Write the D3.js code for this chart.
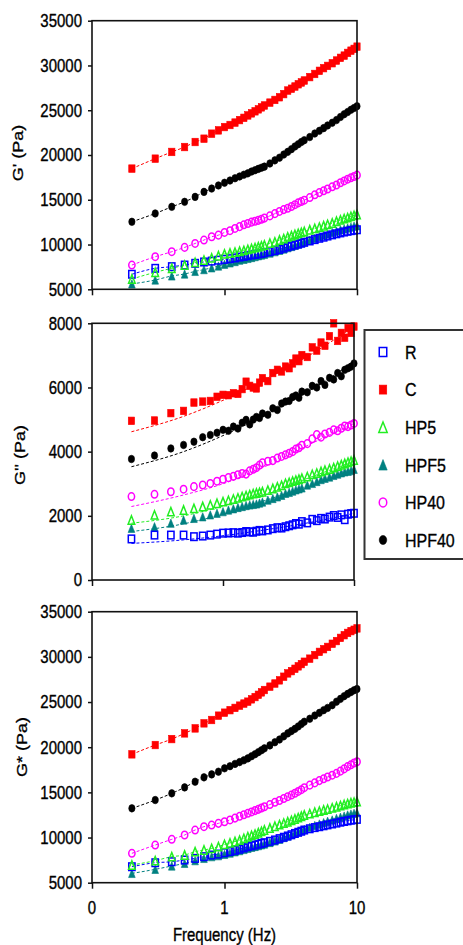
<!DOCTYPE html>
<html><head><meta charset="utf-8">
<script src="https://cdn.jsdelivr.net/npm/d3@7"></script>
<style>
body{margin:0;background:#fff;}
svg{display:block;}
text{font-family:"Liberation Sans",Arial,sans-serif;fill:#000;stroke:#000;stroke-width:0.3px;}
</style>
</head><body>
<svg id="c" width="463" height="945"></svg>
<script>
// ---------- DATA ----------
const freq = [0.2,0.3,0.4,0.5,0.6,0.7,0.8,0.9,1.0,1.1,1.2,1.3,1.4,1.5,1.6,1.7,1.8,1.9,2.0,2.2,2.4,2.6,2.8,3.0,3.2,3.4,3.6,3.8,4.0,4.4,4.8,5.2,5.6,6.0,6.5,7.0,7.5,8.0,8.5,9.0,9.5,10];
const seriesNames = ["R","C","HP5","HPF5","HP40","HPF40"];
const xTickValues = [0.1,1,10];
const xTickLabels = ["0","1","10"];
const yTicksG = [5000,10000,15000,20000,25000,30000,35000];
const yTicksGpp = [0,2000,4000,6000,8000];

// G' (storage modulus)
const gp_R    = [6680,7340,7530,7710,7900,8050,8150,8250,8340,8420,8500,8600,8680,8750,8830,8890,8950,9010,9080,9200,9330,9450,9600,9750,9850,9950,10050,10150,10250,10400,10550,10700,10820,10950,11080,11200,11300,11400,11480,11550,11600,11650];
const gp_C    = [18480,19590,20340,20890,21450,21820,22380,22750,23120,23350,23620,23900,24150,24420,24650,24880,25100,25320,25530,25850,26150,26450,26800,27200,27400,27650,27900,28100,28320,28700,29050,29400,29700,29950,30250,30550,30850,31100,31400,31650,31850,32100];
const gp_HP5  = [6150,6900,7350,7700,8000,8250,8500,8750,8950,9050,9150,9250,9350,9450,9550,9650,9750,9850,9950,10150,10300,10500,10650,10850,10980,11120,11250,11350,11450,11650,11800,11950,12100,12250,12400,12600,12750,12900,13000,13150,13250,13350];
const gp_HPF5 = [5600,6040,6490,6710,7000,7200,7400,7600,7800,7950,8100,8250,8350,8450,8550,8650,8750,8830,8900,9050,9200,9350,9500,9650,9780,9920,10050,10180,10300,10500,10700,10900,11050,11200,11350,11500,11650,11750,11850,11950,12050,12100];
const gp_HP40 = [7710,8640,9200,9680,10120,10500,10870,11050,11350,11550,11800,12000,12200,12350,12500,12600,12700,12820,12950,13200,13450,13700,13900,14050,14250,14450,14650,14800,14950,15250,15550,15800,16000,16200,16450,16650,16900,17100,17300,17450,17600,17750];
const gp_HPF40= [12540,13470,14210,14770,15320,15880,16250,16600,16900,17150,17400,17600,17800,17950,18150,18300,18450,18580,18700,19050,19400,19700,20050,20350,20650,20950,21200,21450,21650,22000,22400,22700,23000,23300,23600,23900,24250,24550,24800,25050,25250,25450];

// G'' (loss modulus)
const gpp_R    = [1280,1400,1400,1400,1350,1370,1400,1430,1460,1465,1475,1460,1480,1510,1500,1490,1520,1545,1530,1560,1600,1630,1620,1660,1690,1720,1760,1740,1820,1780,1890,1850,1920,1900,1960,2010,1950,2030,1880,2050,2070,2080];
const gpp_C    = [4960,4970,5200,5270,5530,5560,5580,5710,5770,5760,5820,5800,5950,6180,6050,6000,5970,6150,6290,6200,6450,6550,6500,6650,6600,6750,6900,6820,7010,6950,7250,7150,7400,7300,7600,8000,7450,7700,7550,7850,7700,7900];
const gpp_HP5  = [1870,2030,2130,2180,2230,2290,2340,2390,2440,2480,2520,2560,2600,2630,2660,2690,2710,2730,2750,2800,2850,2900,2950,3010,3040,3080,3110,3140,3170,3220,3290,3330,3380,3420,3460,3500,3550,3590,3630,3670,3700,3740];
const gpp_HPF5 = [1610,1660,1770,1870,1920,1970,2030,2080,2130,2180,2220,2260,2290,2320,2340,2355,2370,2400,2430,2490,2540,2590,2640,2700,2730,2770,2810,2840,2870,2960,3010,3070,3130,3170,3210,3260,3300,3340,3370,3390,3410,3450];
const gpp_HP40 = [2600,2670,2750,2830,2910,2960,3010,3080,3140,3190,3230,3280,3320,3300,3400,3450,3500,3580,3650,3700,3720,3800,3850,3900,3950,4000,4080,4120,4200,4250,4400,4530,4450,4550,4600,4680,4650,4730,4800,4780,4830,4880];
const gpp_HPF40= [3770,3880,4100,4210,4310,4450,4520,4590,4680,4650,4780,4720,4900,4990,4850,5000,5080,5050,5190,5150,5350,5300,5500,5560,5580,5700,5750,5680,5870,5850,6050,6000,6200,6080,6300,6250,6450,6350,6550,6600,6650,6750];

// G'' fitted curves
const fitFreq = [0.2,0.5,1,2,5,10];
const fit_R    = [1140,1250,1380,1550,1820,2080];
const fit_C    = [4620,5100,5600,6200,7100,7900];
const fit_HP5  = [1770,2000,2300,2650,3250,3700];
const fit_HPF5 = [1510,1750,2050,2450,3000,3450];
const fit_HP40 = [2290,2650,3000,3500,4300,4880];
const fit_HPF40= [3530,4000,4500,5100,6000,6800];

// G* (complex modulus)
const gs_R    = [6770,7210,7320,7510,7690,7880,8060,8170,8320,8450,8580,8700,8850,8990,9080,9170,9260,9350,9430,9580,9730,9880,10030,10170,10310,10450,10580,10700,10830,10970,11100,11200,11300,11400,11500,11600,11700,11780,11850,11920,11970,12010];
const gs_C    = [19210,20240,20900,21530,22080,22640,23010,23490,23820,24100,24350,24600,24830,25040,25300,25550,25800,26070,26330,26700,27050,27400,27800,28170,28420,28680,28950,29200,29460,29800,30200,30550,30850,31100,31450,31750,32100,32400,32650,32850,33000,33150];
const gs_HP5  = [6960,7440,7880,8060,8430,8620,8800,8990,9240,9400,9560,9720,9900,10090,10230,10380,10530,10680,10830,11050,11250,11430,11600,11750,11900,12050,12200,12350,12490,12650,12800,12930,13050,13150,13280,13410,13530,13650,13750,13850,13920,13970];
const gs_HPF5 = [6030,6480,6850,7140,7440,7690,7880,7990,8140,8280,8420,8550,8680,8800,8920,9010,9100,9190,9280,9450,9620,9800,10000,10170,10330,10490,10650,10780,10900,11120,11330,11500,11650,11800,11950,12120,12250,12380,12500,12600,12680,12750];
const gs_HP40 = [8250,9170,9800,10280,10830,11200,11380,11570,11750,11950,12150,12350,12520,12680,12830,12980,13120,13270,13410,13650,13900,14100,14320,14520,14700,14900,15100,15300,15520,15800,16050,16300,16500,16700,16900,17100,17350,17600,17850,18050,18250,18390];
const gs_HPF40= [13230,14150,14890,15550,16180,16660,16990,17290,17660,17900,18150,18350,18550,18760,19000,19220,19450,19660,19870,20200,20550,20850,21200,21530,21780,22030,22300,22560,22820,23150,23500,23800,24100,24350,24650,25040,25350,25650,25900,26100,26300,26440];

// ---------- STYLES / LAYOUT ----------
const styles = {
  R:    {color:"#0000ff", shape:"square",   filled:false},
  C:    {color:"#ff0000", shape:"square",   filled:true},
  HP5:  {color:"#22ee22", shape:"triangle", filled:false},
  HPF5: {color:"#008080", shape:"triangle", filled:true},
  HP40: {color:"#ff00ff", shape:"circle",   filled:false},
  HPF40:{color:"#000000", shape:"circle",   filled:true}
};
const drawOrder = ["HPF5","R","HP5","HP40","HPF40","C"];
const SY = 1.2; // vertical stretch of the original picture

const panels = [
  {top:20.7, bottom:289.3, left:92, right:357, domain:[5000,35000], ticks:yTicksG, label:"G' (Pa)", lx:18, ly:153,
   data:{R:gp_R,C:gp_C,HP5:gp_HP5,HPF5:gp_HPF5,HP40:gp_HP40,HPF40:gp_HPF40}, fits:null, xlabels:false},
  {top:323.3, bottom:580, left:92, right:354, domain:[0,8000], ticks:yTicksGpp, label:"G'' (Pa)", lx:20, ly:455,
   data:{R:gpp_R,C:gpp_C,HP5:gpp_HP5,HPF5:gpp_HPF5,HP40:gpp_HP40,HPF40:gpp_HPF40},
   fits:{R:fit_R,C:fit_C,HP5:fit_HP5,HPF5:fit_HPF5,HP40:fit_HP40,HPF40:fit_HPF40}, xlabels:false},
  {top:611.7, bottom:882.7, left:92, right:357, domain:[5000,35000], ticks:yTicksG, label:"G* (Pa)", lx:22, ly:747,
   data:{R:gs_R,C:gs_C,HP5:gs_HP5,HPF5:gs_HPF5,HP40:gs_HP40,HPF40:gs_HPF40}, fits:null, xlabels:true}
];

const svg = d3.select("#c");

function stext(g, x, y, str, size, anchor, rot){
  return g.append("text")
    .attr("transform", `translate(${x},${y}) scale(1,${SY})` + (rot ? " rotate(-90)" : ""))
    .attr("text-anchor", anchor || "start")
    .attr("dy", "0.35em")
    .style("font-size", size + "px")
    .text(str);
}

function marker(g, st, cx, cy, s){
  const h = s * SY;
  let el;
  if (st.shape === "square"){
    el = g.append("rect").attr("x", cx - s/2).attr("y", cy - h/2).attr("width", s).attr("height", h);
  } else if (st.shape === "circle"){
    el = g.append("ellipse").attr("cx", cx).attr("cy", cy).attr("rx", s/2).attr("ry", h/2);
  } else {
    const w = s * 1.05, th = h * 1.1;
    el = g.append("path").attr("d", `M${cx},${cy - th/2}L${cx + w/2},${cy + th/2}L${cx - w/2},${cy + th/2}Z`);
  }
  if (st.filled) el.attr("fill", st.color).attr("stroke", st.color).attr("stroke-width", 0.6);
  else el.attr("fill", "none").attr("stroke", st.color).attr("stroke-width", 1.5);
}

panels.forEach(p => {
  const x = d3.scaleLog().domain([0.1, 10]).range([p.left, p.right]);
  const y = d3.scaleLinear().domain(p.domain).range([p.bottom, p.top]);
  const g = svg.append("g");

  // lines
  const line = d3.line().x(d => x(d[0])).y(d => y(d[1])).curve(d3.curveMonotoneX);
  seriesNames.forEach(n => {
    const st = styles[n];
    const pts = p.fits ? fitFreq.map((f, i) => [f, p.fits[n][i]]) : freq.map((f, i) => [f, p.data[n][i]]);
    g.append("path").attr("d", line(pts)).attr("fill", "none")
      .attr("stroke", st.color).attr("stroke-width", 1).attr("stroke-dasharray", "3,2");
  });

  // markers
  drawOrder.forEach(n => {
    const st = styles[n];
    const mg = g.append("g");
    freq.forEach((f, i) => marker(mg, st, x(f), y(p.data[n][i]), 6.3));
  });

  // frame
  g.append("rect").attr("x", p.left).attr("y", p.top)
    .attr("width", p.right - p.left).attr("height", p.bottom - p.top)
    .attr("fill", "none").attr("stroke", "#111").attr("stroke-width", 1.6);

  // y axis ticks/labels
  const ya = d3.axisLeft(y).tickValues(p.ticks).tickSize(4).tickFormat("");
  const yg = g.append("g").attr("transform", `translate(${p.left},0)`).call(ya);
  yg.select(".domain").remove();
  yg.selectAll("line").attr("stroke", "#111").attr("stroke-width", 1.5);
  p.ticks.forEach(t => stext(g, p.left - 10, y(t), String(t), 15, "end"));

  // x axis ticks
  const xa = d3.axisBottom(x).tickValues(xTickValues).tickSize(6).tickFormat("");
  const xg = g.append("g").attr("transform", `translate(0,${p.bottom})`).call(xa);
  xg.select(".domain").remove();
  xg.selectAll("line").attr("stroke", "#111").attr("stroke-width", 1.5);
  if (p.xlabels){
    xTickValues.forEach((t, i) => stext(g, x(t), p.bottom + 25, xTickLabels[i], 15, "middle"));
    stext(g, (p.left + p.right) / 2, p.bottom + 52, "Frequency (Hz)", 15, "middle");
  }

  // y label
  stext(g, p.lx, p.ly, p.label, 15, "middle", true);
});

// legend
const lg = svg.append("g");
lg.append("rect").attr("x", 364.5).attr("y", 330).attr("width", 120).attr("height", 229)
  .attr("fill", "#fff").attr("stroke", "#333").attr("stroke-width", 2);
const legendY = d3.scalePoint().domain(seriesNames).range([352, 540]);
seriesNames.forEach(n => {
  const st = styles[n];
  const cy = legendY(n);
  const s = st.shape === "triangle" ? 8 : 7.5;
  marker(lg, st, 383, cy, s);
  stext(lg, 405, cy, n, 16, "start");
});
</script>
</body></html>
